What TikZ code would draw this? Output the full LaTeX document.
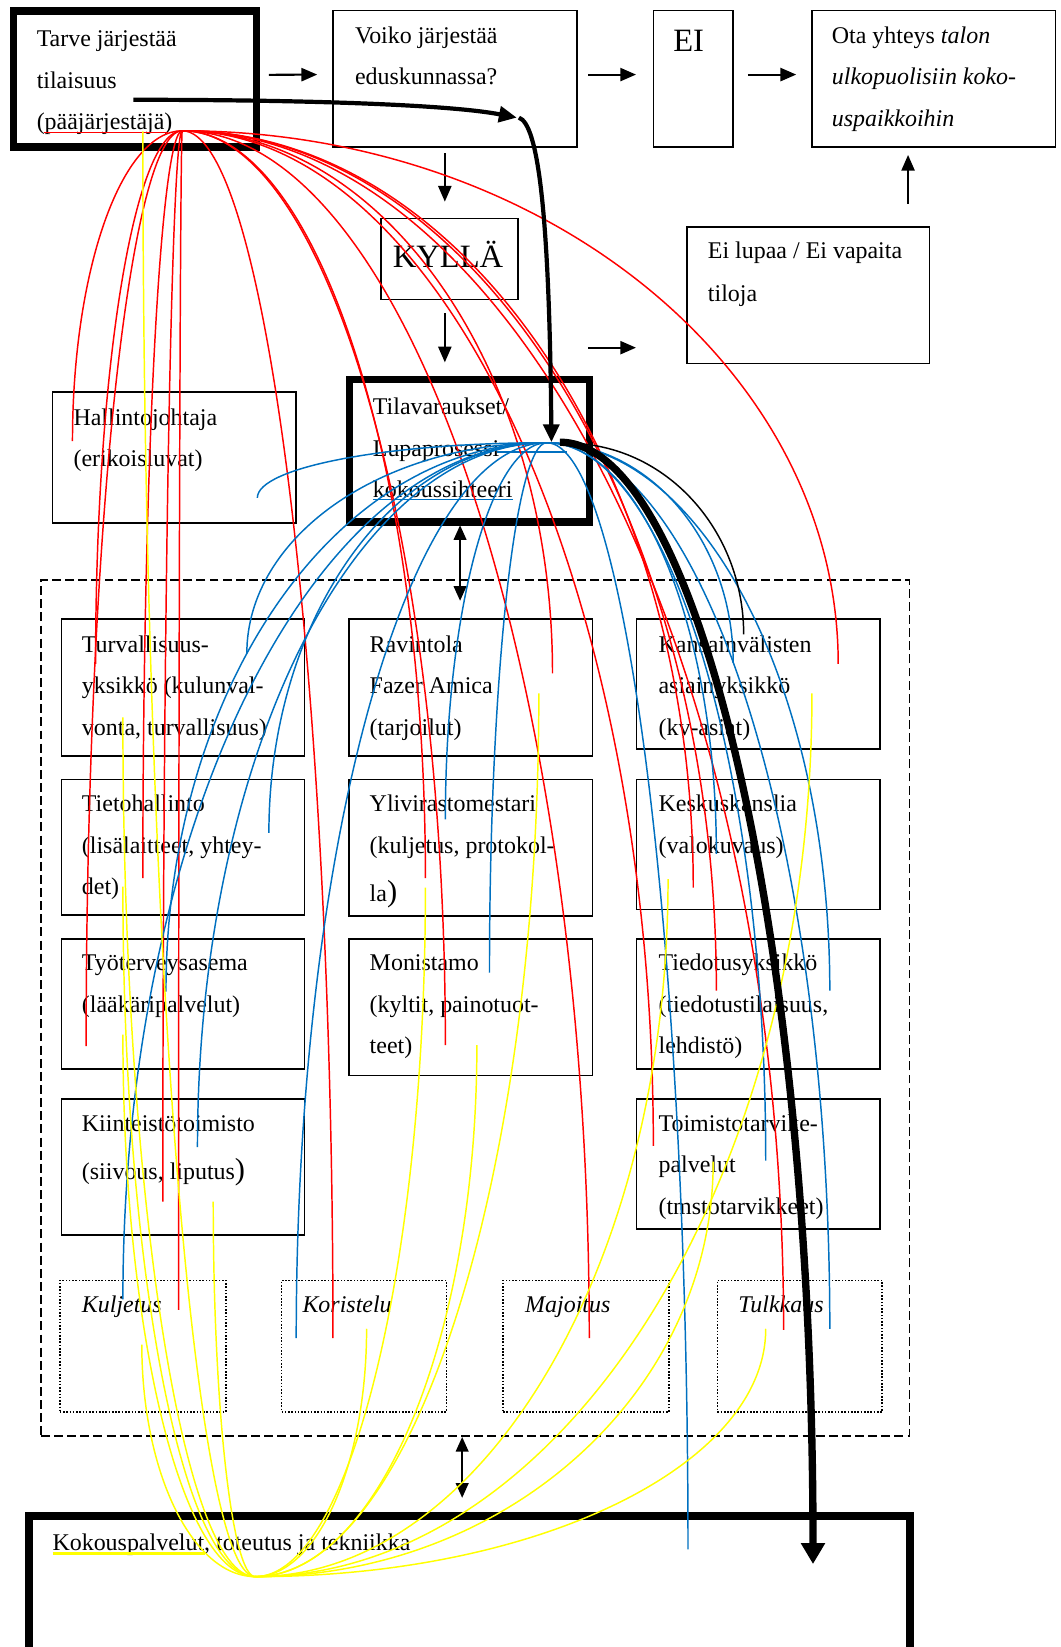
\documentclass[tikz,border=0pt]{standalone}
\usepackage{fontspec}
\setmainfont{Liberation Serif}
\usetikzlibrary{arrows.meta}
\definecolor{linkred}{HTML}{FF0000}
\definecolor{linkblue}{HTML}{0070C0}
\definecolor{linkyellow}{HTML}{FFFF00}
% stacked lines with a fixed baseline distance; the node's baseline is the first line
\newcommand\rows[1]{\vtop{\baselineskip=39.5pt\lineskiplimit=-100pt\lineskip=0pt\halign{##\hfil\cr#1\crcr}}}
\newcommand\bigclose{{\fontsize{29}{29}\selectfont )}}

\begin{document}
\begin{tikzpicture}[x=1pt,y=-1pt,
  every node/.style={font=\fontsize{22.8}{39.5}\selectfont},
  box/.style={draw, line width=1.6pt, anchor=north west, inner sep=0pt, outer sep=0pt},
  heavybox/.style={box, line width=7pt},
  groupbox/.style={box, line width=1.5pt, dash pattern=on 8.5pt off 4pt},
  dotbox/.style={box, line width=1.6pt, dash pattern=on 1.5pt off 1.6pt},
  txt/.style={anchor=base west, inner sep=0pt, outer sep=0pt},
  bigtxt/.style={txt, font=\fontsize{31}{31}\selectfont},
  flow/.style={line width=2pt, -{Triangle[length=15pt,width=12.5pt]}},
  twoway/.style={line width=2pt, {Triangle[length=14pt,width=12pt]}-{Triangle[length=14pt,width=12pt]}},
  mainpath/.style={line width=4pt, -{Triangle[length=17pt,width=15pt]}},
  link/.style={line width=1.4pt},
  redlink/.style={link, draw=linkred},
  bluelink/.style={link, draw=linkblue},
  yellowlink/.style={link, draw=linkyellow},
]
\useasboundingbox (0,0) rectangle (1010,1568);
\clip (0,0) rectangle (1010,1568);

% ---------- top row ----------
\node[heavybox, minimum width=231.4pt, minimum height=129.5pt] (tarve) at (12.6,10.5) {};
\node[box, minimum width=232pt, minimum height=130pt] (voiko) at (317,10) {};
\node[box, minimum width=76pt, minimum height=130pt] (ei) at (622,10) {};
\node[box, minimum width=232pt, minimum height=130pt] (ota) at (773,10) {};
\node[box, minimum width=130pt, minimum height=77pt] (kylla) at (363,208) {};
\node[box, minimum width=231pt, minimum height=130pt] (eilupaa) at (654,216) {};
\node[box, minimum width=232pt, minimum height=125pt] (hallinto) at (50,373) {};
\node[heavybox, minimum width=228pt, minimum height=136pt] (tila) at (333,361) {};

\node[txt] (tarve-t) at (35,44.4) {\rows{Tarve järjestää\cr tilaisuus\cr (pääjärjestäjä)}};
\node[txt] (voiko-t) at (338,41) {\rows{Voiko järjestää\cr eduskunnassa?}};
\node[bigtxt] (ei-t) at (641,49) {EI};
\node[txt] (ota-t) at (792,41) {\rows{Ota yhteys \textit{talon}\cr \textit{ulkopuolisiin koko-}\cr \textit{uspaikkoihin}}};
\node[bigtxt] (kylla-t) at (374,255) {KYLLÄ};
\node[txt] (eilupaa-t) at (674,246) {\rows{Ei lupaa / Ei vapaita\cr\noalign{\kern1.5pt} tiloja}};
\node[txt] (hallinto-t) at (70,405) {\rows{Hallintojohtaja\cr (erikoisluvat)}};
\node[txt] (tila-t) at (355,395) {\rows{Tilavaraukset/\cr Lupaprosessi\cr kokoussihteeri}};

% ---------- service units ----------
\node[groupbox, minimum width=827pt, minimum height=815pt] (yksikot) at (39,552) {};

\node[box, minimum width=231.5pt, minimum height=131pt] (turva) at (58.5,589) {};
\node[box, minimum width=231.5pt, minimum height=129pt] (tieto) at (58.5,742) {};
\node[box, minimum width=231.5pt, minimum height=124pt] (tyoterv) at (58.5,894) {};
\node[box, minimum width=231.5pt, minimum height=130pt] (kiinteisto) at (58.5,1046) {};
\node[box, minimum width=232pt, minimum height=131pt] (ravintola) at (332,589) {};
\node[box, minimum width=232pt, minimum height=130pt] (ylivir) at (332,742) {};
\node[box, minimum width=232pt, minimum height=130pt] (monistamo) at (332,894) {};
\node[box, minimum width=232pt, minimum height=124pt] (kv) at (606,589) {};
\node[box, minimum width=232pt, minimum height=124pt] (kanslia) at (606,742) {};
\node[box, minimum width=232pt, minimum height=124pt] (tiedotus) at (606,894) {};
\node[box, minimum width=232pt, minimum height=124pt] (toimisto) at (606,1046) {};

\node[txt] (turva-t) at (78,621) {\rows{Turvallisuus-\cr yksikkö (kulunval-\cr vonta, turvallisuus)}};
\node[txt] (tieto-t) at (78,773) {\rows{Tietohallinto\cr (lisälaitteet, yhtey-\cr det)}};
\node[txt] (tyoterv-t) at (78,924) {\rows{Työterveysasema\cr (lääkäripalvelut)}};
\node[txt] (kiinteisto-t) at (78,1077) {\rows{Kiinteistötoimisto\cr\noalign{\kern6.5pt} (siivous, liputus\bigclose}};
\node[txt] (ravintola-t) at (352,621) {\rows{Ravintola\cr Fazer Amica\cr (tarjoilut)}};
\node[txt] (ylivir-t) at (352,773) {\rows{Ylivirastomestari\cr (kuljetus, protokol-\cr\noalign{\kern6.5pt} la\bigclose}};
\node[txt] (monistamo-t) at (352,924) {\rows{Monistamo\cr (kyltit, painotuot-\cr teet)}};
\node[txt] (kv-t) at (627,621) {\rows{Kansainvälisten\cr asiainyksikkö\cr (kv-asiat)}};
\node[txt] (kanslia-t) at (627,773) {\rows{Keskuskanslia\cr (valokuvaus)}};
\node[txt] (tiedotus-t) at (627,924) {\rows{Tiedotusyksikkö\cr (tiedotustilaisuus,\cr lehdistö)}};
\node[txt] (toimisto-t) at (627,1077) {\rows{Toimistotarvike-\cr palvelut\cr (tmstotarvikkeet)}};

\node[dotbox, minimum width=158pt, minimum height=125pt] (kuljetus) at (57,1219) {};
\node[dotbox, minimum width=157pt, minimum height=125pt] (koristelu) at (268,1219) {};
\node[dotbox, minimum width=158pt, minimum height=125pt] (majoitus) at (479,1219) {};
\node[dotbox, minimum width=157pt, minimum height=125pt] (tulkkaus) at (683,1219) {};
\node[txt] (kuljetus-t) at (78,1250) {\textit{Kuljetus}};
\node[txt] (koristelu-t) at (288,1250) {\textit{Koristelu}};
\node[txt] (majoitus-t) at (500,1250) {\textit{Majoitus}};
\node[txt] (tulkkaus-t) at (703,1250) {\textit{Tulkkaus}};

% ---------- meeting services ----------
\node[heavybox, line width=7.5pt, minimum width=838pt, minimum height=200pt] (palvelut) at (28,1443) {};
\node[txt] (palvelut-t) at (50,1476) {Kokouspalvelut, toteutus ja tekniikka};

% ---------- flow arrows ----------
\draw[flow] ([xshift=12pt,yshift=4pt]tarve.east) -- ([xshift=-15pt,yshift=4pt]voiko.west);
\draw[flow] ([xshift=11pt,yshift=4pt]voiko.east) -- ([xshift=-16.5pt,yshift=4pt]ei.west);
\draw[flow] ([xshift=14pt,yshift=4pt]ei.east) -- ([xshift=-15pt,yshift=4pt]ota.west);
\draw[flow] ([xshift=-9.5pt,yshift=-6pt]voiko.south) -- ([xshift=-4.5pt,yshift=16pt]kylla.north);
\draw[flow] ([xshift=-4.5pt,yshift=-13pt]kylla.south) -- ([xshift=-23.5pt,yshift=16pt]tila.north);
\draw[flow] ([xshift=-94pt,yshift=-50pt]eilupaa.west) -- ([xshift=-48.5pt,yshift=-50pt]eilupaa.west);
\draw[flow] ([xshift=95pt,yshift=22pt]eilupaa.north) -- ([xshift=-24.5pt,yshift=-7.5pt]ota.south);
\draw[twoway] ([xshift=-9pt,yshift=-3pt]tila.south) -- ([xshift=-14.5pt,yshift=-20pt]yksikot.north);
\draw[twoway] ([xshift=-12.5pt,yshift=-1pt]yksikot.south) -- ([xshift=-7pt,yshift=17pt]palvelut.north);

% ---------- underlines ----------
\draw[linkred, line width=1.6pt] (42,126) -- (160,126);
\draw[linkblue, line width=1.6pt] (473,430) -- (540,430);
\draw[linkblue, line width=1.6pt] (355,475.5) -- (488,475.5);
\draw[linkyellow, line width=2pt] (50,1479) -- (195,1479);

% ---------- contact links ----------
\coordinate (redhub) at (173.5,124.5);
\coordinate (bluehub) at (520.5,421.5);
\coordinate (yellowhub) at (243,1501);

\foreach \n/\ex/\ey in {1/69/420, 2/91/632, 3/82/996, 4/136/836, 5/155/1144,
    6/170/1247, 7/317/1274, 8/405/836, 9/424/995, 10/561/1274, 11/526/641,
    12/798/632, 13/660/845, 14/682/943, 15/622/1091, 16/746/1266} {
  \coordinate (r\n) at (\ex,\ey);
  \draw[redlink] (redhub) .. controls +({0.552*(\ex-173.5)},0) and +(0,{-0.552*(\ey-124.5)}) .. (r\n);
}
\foreach \n/\ex/\ey in {1/245/474, 2/235/622, 3/256/793, 4/158/944, 5/188/1092,
    6/117/1237, 7/282/1274, 8/424/780, 9/466/926, 10/655/1475, 11/790/1265,
    12/682/813, 13/790/943, 14/729/1105, 15/698/631} {
  \coordinate (b\n) at (\ex,\ey);
  \draw[bluelink] (bluehub) .. controls +({0.552*(\ex-520.5)},0) and +(0,{-0.552*(\ey-421.5)}) .. (b\n);
}
\foreach \n/\ex/\ey in {1/136/125, 2/117/683, 3/117/844, 4/117/985, 5/203/1144,
    6/135/1280, 7/349/1265, 8/513/660, 9/405/845, 10/454/995, 11/773/660,
    12/636/837, 13/679/1106, 14/729/1265} {
  \coordinate (y\n) at (\ex,\ey);
  \draw[yellowlink] (yellowhub) .. controls +({0.552*(\ex-243)},0) and +(0,{-0.552*(\ey-1501)}) .. (y\n);
}

% ---------- main process path ----------
\coordinate (p0) at (127,95);
\coordinate (p1) at (492,112);
\coordinate (p2) at (494,112);
\coordinate (p3) at (525,421);
\draw[mainpath] (p0) .. controls (300,95) and (430,100) .. (p1);
\draw[mainpath] (p2) .. controls (512,118) and (523,200) .. (p3);

\coordinate (kvlink) at (708,604);
\draw[link] (540,422) .. controls +(93,0) and +(0,-100) .. (kvlink);

\coordinate (bigstart) at (533,421);
\coordinate (bigend) at (774,1489);
\draw[line width=7pt, -{Triangle[length=20pt,width=22pt]}] (bigstart) .. controls +(133,0) and +(0,-589) .. (bigend);
\end{tikzpicture}
\end{document}
